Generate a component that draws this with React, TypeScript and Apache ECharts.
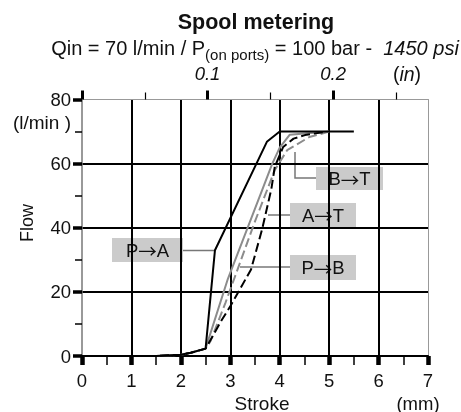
import React, { useEffect, useRef } from "react";
import * as echarts from "echarts";

// ---- data ----
const xTicksMM = [0, 1, 2, 3, 4, 5, 6, 7];
const yTicks = [0, 20, 40, 60, 80];
const inchMajor = [0, 0.1, 0.2];
const inchMinor = [0.05, 0.15, 0.25];
const inchLabels = [0.1, 0.2];

const paStroke = [0, 1.5, 2.0, 2.2, 2.5, 2.69, 3.74, 4.0, 5.5];
const paFlow = [0, 0, 0.4, 1.0, 2.3, 33, 66.8, 70, 70];

const pbStroke = [0, 1.5, 2.0, 2.2, 2.5, 2.95, 3.65, 3.85, 4.0, 4.2, 5.0];
const pbFlow = [0, 0, 0.4, 1.0, 2.3, 24, 52, 60, 65, 69, 70];

const btStroke = [0, 1.5, 2.0, 2.2, 2.5, 2.6, 2.9, 3.5, 3.9, 4.15, 4.6, 5.0];
const btFlow = [0, 0, 0.4, 1.0, 2.3, 4.6, 16.5, 42, 58, 64.2, 68.3, 70];

const atStroke = [0, 1.5, 2.0, 2.2, 2.5, 2.83, 3.0, 3.42, 3.64, 3.83, 3.9, 4.07, 4.28, 4.51, 4.95];
const atFlow = [0, 0, 0.4, 1.0, 2.3, 11.3, 15.5, 27, 39.3, 52, 59, 65.2, 67.8, 68.9, 70];

const zip = (xs: number[], ys: number[]) => xs.map((x, i) => [x, ys[i]]);

const FONT = "'Liberation Sans', Arial, sans-serif";
const ARROW_FONT = "'Noto Sans CJK SC', 'DejaVu Sans', sans-serif";
const TXT = "#111";
const FS = 18.5;

function labelBox(a: string, b: string, x: number, y: number, w: number, h: number) {
  return {
    type: "group",
    children: [
      { type: "rect", shape: { x, y, width: w, height: h }, style: { fill: "#cbcbcb" } },
      {
        type: "text",
        x: x + w / 2,
        y: y + h / 2,
        style: {
          text: `{t|${a}}{a|→}{t|${b}}`,
          align: "center",
          verticalAlign: "middle",
          rich: {
            t: { fontSize: FS, fontFamily: FONT, fill: TXT, color: TXT },
            a: { fontSize: FS, fontFamily: ARROW_FONT, fill: TXT, color: TXT },
          },
        },
      },
    ],
  };
}

export default function App() {
  const ref = useRef<HTMLDivElement>(null);
  useEffect(() => {
    if (!ref.current) return;
    const chart = echarts.init(ref.current, null, { renderer: "svg" });
    const inchMax = 7 / 25.4;
    const topAxisBase = {
      type: "value",
      position: "top",
      min: 0,
      max: inchMax,
      splitLine: { show: false },
    };
    const option: any = {
      animation: false,
      grid: { left: 82, top: 99.5, width: 346, height: 256.5 },
      xAxis: [
        {
          type: "value",
          position: "bottom",
          min: xTicksMM[0],
          max: xTicksMM[xTicksMM.length - 1],
          interval: 1,
          axisLine: { show: true, onZero: false, lineStyle: { color: "#000", width: 2 } },
          axisTick: { show: true, length: 9, lineStyle: { color: "#000", width: 4.5 } },
          minorTick: { show: true, splitNumber: 2, length: 9, lineStyle: { color: "#000", width: 1.5 } },
          axisLabel: { margin: 15, fontSize: FS, fontFamily: FONT, color: TXT },
          splitLine: { show: true, showMinLine: false, showMaxLine: false, lineStyle: { color: "#000", width: 2 } },
          minorSplitLine: { show: false },
        },
        {
          ...topAxisBase,
          axisLine: { show: true, onZero: false, lineStyle: { color: "#999", width: 1 } },
          axisTick: { show: false },
          axisLabel: {
            show: true,
            customValues: inchLabels,
            formatter: (v: number) => v.toFixed(1),
            margin: 17,
            fontSize: FS,
            fontStyle: "italic",
            fontFamily: FONT,
            color: TXT,
          },
        },
        {
          ...topAxisBase,
          axisLine: { show: false, onZero: false },
          axisTick: { show: true, customValues: inchMajor, length: 9, lineStyle: { color: "#000", width: 3 } },
          axisLabel: { show: false },
        },
        {
          ...topAxisBase,
          axisLine: { show: false, onZero: false },
          axisTick: { show: true, customValues: inchMinor, length: 7, lineStyle: { color: "#000", width: 1.2 } },
          axisLabel: { show: false },
        },
      ],
      yAxis: [
        {
          type: "value",
          position: "left",
          min: yTicks[0],
          max: yTicks[yTicks.length - 1],
          interval: 20,
          axisLine: { show: true, onZero: false, lineStyle: { color: "#777", width: 1.5 } },
          axisTick: { show: true, length: 9, lineStyle: { color: "#000", width: 3.5 } },
          minorTick: { show: true, splitNumber: 2, length: 7, lineStyle: { color: "#000", width: 1.5 } },
          axisLabel: { margin: 11, fontSize: FS, fontFamily: FONT, color: TXT },
          splitLine: { show: true, showMinLine: false, showMaxLine: false, lineStyle: { color: "#000", width: 2 } },
        },
        {
          type: "value",
          position: "right",
          min: 0,
          max: 80,
          axisLine: { show: true, onZero: false, lineStyle: { color: "#999", width: 1 } },
          axisTick: { show: false },
          axisLabel: { show: false },
          splitLine: { show: false },
        },
      ],
      series: [
        {
          type: "line",
          name: "P→B",
          data: zip(pbStroke, pbFlow),
          showSymbol: false,
          lineStyle: { color: "#8c8c8c", width: 2 },
          z: 2,
        },
        {
          type: "line",
          name: "B→T",
          data: zip(btStroke, btFlow),
          showSymbol: false,
          lineStyle: { color: "#8c8c8c", width: 2, type: [9, 4] },
          z: 3,
        },
        {
          type: "line",
          name: "A→T",
          data: zip(atStroke, atFlow),
          showSymbol: false,
          lineStyle: { color: "#000", width: 2, type: [9, 4] },
          z: 4,
        },
        {
          type: "line",
          name: "P→A",
          data: zip(paStroke, paFlow),
          showSymbol: false,
          lineStyle: { color: "#000", width: 2 },
          z: 5,
        },
      ],
      graphic: [
        {
          type: "text",
          x: 256,
          y: 21.5,
          style: { text: "Spool metering", fontSize: 21.5, fontWeight: "bold", fontFamily: FONT, fill: TXT, align: "center", verticalAlign: "middle" },
        },
        {
          type: "text",
          x: 255,
          y: 47.5,
          style: {
            text: "{n|Qin = 70 l/min / P}{s|(on ports)}{n| = 100 bar -  }{i|1450 psi}",
            align: "center",
            verticalAlign: "middle",
            fontFamily: FONT,
            fill: TXT,
            rich: {
              n: { fontSize: 20, fontFamily: FONT, fill: TXT, color: TXT },
              s: { fontSize: 15, fontFamily: FONT, fill: TXT, color: TXT, padding: [13, 0, 0, 0] },
              i: { fontSize: 20, fontStyle: "italic", fontFamily: FONT, fill: TXT, color: TXT },
            },
          },
        },
        {
          type: "text",
          x: 407,
          y: 74,
          style: {
            text: "{n|(}{i|in}{n|)}",
            align: "center",
            verticalAlign: "middle",
            rich: {
              n: { fontSize: 19.5, fontFamily: FONT, fill: TXT, color: TXT },
              i: { fontSize: 19.5, fontStyle: "italic", fontFamily: FONT, fill: TXT, color: TXT },
            },
          },
        },
        {
          type: "text",
          x: 42,
          y: 122,
          style: { text: "(l/min )", fontSize: 19, fontFamily: FONT, fill: TXT, align: "center", verticalAlign: "middle" },
        },
        {
          type: "text",
          x: 27,
          y: 223,
          rotation: Math.PI / 2,
          style: { text: "Flow", fontSize: 18, fontFamily: FONT, fill: TXT, align: "center", verticalAlign: "middle" },
        },
        {
          type: "text",
          x: 262,
          y: 403,
          style: { text: "Stroke", fontSize: 19, fontFamily: FONT, fill: TXT, align: "center", verticalAlign: "middle" },
        },
        {
          type: "text",
          x: 418,
          y: 403,
          style: { text: "(mm)", fontSize: 18.5, fontFamily: FONT, fill: TXT, align: "center", verticalAlign: "middle" },
        },
        // leaders
        { type: "polyline", shape: { points: [[183, 250.5], [215, 250.5]] }, style: { stroke: "#777", lineWidth: 1.5, fill: null } },
        { type: "polyline", shape: { points: [[295, 152], [295, 178], [316, 178]] }, style: { stroke: "#777", lineWidth: 1.5, fill: null } },
        { type: "polyline", shape: { points: [[268, 215], [290, 215]] }, style: { stroke: "#777", lineWidth: 1.5, fill: null } },
        { type: "polyline", shape: { points: [[240, 267], [290, 267]] }, style: { stroke: "#777", lineWidth: 1.5, fill: null } },
        labelBox("P", "A", 112, 238, 71, 24),
        labelBox("B", "T", 316, 167, 67, 23),
        labelBox("A", "T", 290, 203, 66, 24),
        labelBox("P", "B", 290, 255, 66, 25),
      ],
    };
    chart.setOption(option);
    return () => chart.dispose();
  }, []);
  return <div ref={ref} style={{ position: "fixed", left: 0, top: 0, width: 461, height: 412 }} />;
}
